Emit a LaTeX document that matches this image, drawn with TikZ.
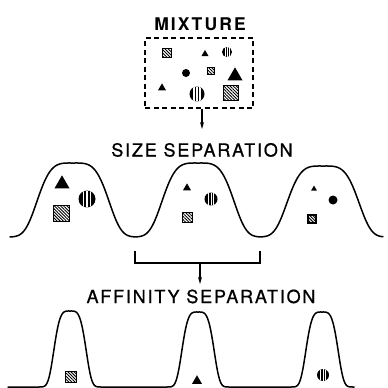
\documentclass[tikz,border=0pt]{standalone}
\usepackage{fontspec}
\setmainfont{TeX Gyre Heros}
\usetikzlibrary{shapes.geometric,patterns.meta,arrows.meta}
\tikzset{
  lbl/.style={inner sep=0pt, anchor=base, font=\fontsize{18}{18}\selectfont\addfontfeature{LetterSpace=10,FakeBold=0.8}},
  lblb/.style={inner sep=0pt, anchor=base, font=\fontsize{17.5}{18}\selectfont\bfseries\addfontfeature{LetterSpace=12}},
  curve/.style={line width=1.5pt, line join=round, line cap=round},
  arr/.style={line width=1.1pt, -{Stealth[length=7pt,width=4pt]}},
  tri/.style={regular polygon, regular polygon sides=3, fill=black, inner sep=0pt, minimum size=1.1547*#1},
  sq/.style={rectangle, draw=black, line width=1pt, inner sep=0pt, minimum size=#1,
    pattern={Lines[angle=-45,distance=2.2pt,line width=0.9pt]}},
  dot/.style={circle, fill=black, inner sep=0pt, minimum size=#1},
  vc/.style={circle, fill=black, inner sep=0pt, minimum size=#1,
    path picture={\foreach \s in {-0.2,0,0.2}
      \draw[white, line width=0.07*#1]
        ([xshift=\s*#1]path picture bounding box.north) --
        ([xshift=\s*#1]path picture bounding box.south);}},
}
\begin{document}
\begin{tikzpicture}[x=1pt,y=-1pt]
\useasboundingbox[fill=white] (0,0) rectangle (388,388);

% MIXTURE
\node[lblb] (mix) at (200,30.5) {MIXTURE};
\node[draw, line width=1.4pt, dash pattern=on 5pt off 3.5pt, minimum width=108pt, minimum height=70pt, inner sep=0pt] (box) at (199,73) {};
\node[sq=9pt] (m1) at (167,53) {};
\node[tri=7pt] (m2) at (205,54) {};
\node[vc=10pt] (m3) at (227,52) {};
\node[dot=8pt] (m4) at (186,73) {};
\node[sq=7pt] (m5) at (211,71) {};
\node[tri=15pt] (m6) at (235,76) {};
\node[tri=8pt] (m7) at (162,88) {};
\node[vc=15pt] (m8) at (197,94) {};
\node[sq=15pt] (m9) at (231,93) {};

\coordinate (a1) at (202,129);
\draw[arr] (box.south -| a1) -- (a1);

% SIZE SEPARATION
\node[lbl] (size) at (202,156.5) {SIZE SEPARATION};
\draw[curve] plot[domain=10:135.5, samples=90] (\x,{237-74*exp(-((\x-73)*(\x-73)/1521)*((\x-73)*(\x-73)/1521))})
  -- plot[domain=135.5:260.5, samples=90] (\x,{237-74*exp(-((\x-198)*(\x-198)/1521)*((\x-198)*(\x-198)/1521))})
  -- plot[domain=260.5:383, samples=90] (\x,{237-71*exp(-((\x-323)*(\x-323)/1521)*((\x-323)*(\x-323)/1521))});
\node[tri=15pt] (s1) at (62,184) {};
\node[vc=17pt] (s2) at (87,199) {};
\node[sq=16pt] (s3) at (61,213) {};
\node[tri=8pt] (s4) at (187,188) {};
\node[sq=10pt] (s5) at (187,217) {};
\node[vc=13pt] (s6) at (211,199) {};
\node[tri=6pt] (s7) at (314,189) {};
\node[dot=9pt] (s8) at (333,200) {};
\node[sq=8pt, line width=1.5pt] (s9) at (312,219) {};

% bracket
\coordinate (b1) at (135,251);
\coordinate (b2) at (260,251);
\coordinate (bm) at (200,263);
\coordinate (a2) at (200,284);
\draw[line width=1.2pt] (b1) |- (bm) -| (b2);
\draw[arr] (bm) -- (a2);

% AFFINITY SEPARATION
\node[lbl] (aff) at (201,303) {AFFINITY SEPARATION};
\draw[curve] (8,387)
  -- plot[domain=38:102, samples=70] (\x,{387-76*exp(-((\x-70)*(\x-70)/306.25)*((\x-70)*(\x-70)/306.25))})
  -- plot[domain=166:230, samples=70] (\x,{387-75*exp(-((\x-198)*(\x-198)/306.25)*((\x-198)*(\x-198)/306.25))})
  -- plot[domain=290:354, samples=70] (\x,{387-75*exp(-((\x-322)*(\x-322)/306.25)*((\x-322)*(\x-322)/306.25))});
\node[sq=11pt] (f1) at (71,377) {};
\node[tri=10pt] (f2) at (197,381) {};
\node[vc=12pt] (f3) at (323,375) {};
\end{tikzpicture}
\end{document}
